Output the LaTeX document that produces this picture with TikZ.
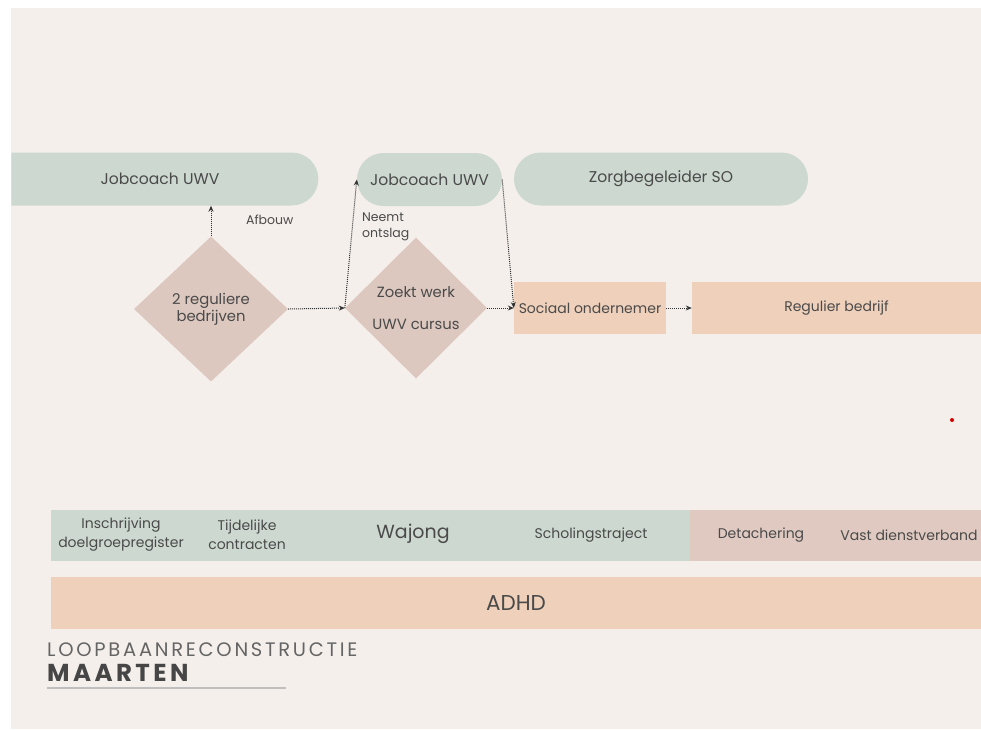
\documentclass[tikz,border=0pt]{standalone}
\usepackage{fontspec}
\setmainfont{Poppins}
\newfontfamily\titlefont[LetterSpace=14]{Poppins}
\usetikzlibrary{shapes.geometric,shapes.misc,arrows.meta}
\definecolor{bgbeige}{HTML}{F4EFEB}
\definecolor{sage}{HTML}{CDD9D0}
\definecolor{dusty}{HTML}{DDC8BF}
\definecolor{peach}{HTML}{EFD0BA}
\definecolor{rose}{HTML}{DFC9C1}
\definecolor{txt}{HTML}{4A4A4A}
\definecolor{arrowc}{HTML}{333333}
\tikzset{
  pill/.style={rounded rectangle, fill=sage, minimum height=53pt, inner sep=0pt, text=txt, font=\fontsize{15.6}{18}\selectfont},
  dia/.style={diamond, fill=dusty, inner sep=0pt, text=txt, align=center, font=\fontsize{14.8}{17}\selectfont},
  box/.style={rectangle, fill=peach, minimum height=52pt, inner sep=0pt, text=txt, font=\fontsize{14}{16}\selectfont},
  flow/.style={densely dotted, line width=1pt, draw=arrowc, -{Stealth[length=6pt,width=5pt]}},
  lbl/.style={text=txt, inner sep=0pt, align=left, font=\fontsize{12.5}{16}\selectfont},
  cell/.style={text=txt, inner sep=0pt, align=center, font=\fontsize{14}{19}\selectfont}
}
\begin{document}
\begin{tikzpicture}[x=1pt,y=-1pt]
\useasboundingbox (0,0) rectangle (981,729);
\fill[white] (0,0) rectangle (981,729);
\fill[bgbeige] (11,8) rectangle (981,729);

% pills
\node[pill, rounded rectangle left arc=none, minimum width=307pt] (jc1) at (164.5,179) {\hspace*{-9pt}Jobcoach UWV};
\node[pill, minimum width=145pt] (jc2) at (429.5,179.5) {Jobcoach UWV};
\node[pill, minimum width=294pt] (zb) at (661,179) {Zorgbegeleider SO};

% diamonds
\node[dia, minimum width=154pt, minimum height=145pt] (d1) at (211,309) {2 reguliere\\bedrijven};
\node[dia, minimum width=142pt, minimum height=141pt, font=\fontsize{14.8}{32}\selectfont] (d2) at (416,308) {Zoekt werk\\UWV cursus};

% boxes
\node[box, minimum width=152pt] (so) at (590,308) {Sociaal ondernemer};
\node[box, minimum width=289pt] (rb) at (836.5,308) {Regulier bedrijf};

% labels
\node[lbl, anchor=west] (afb) at (246,220) {Afbouw};
\node[lbl, anchor=north west] (neemt) at (362,213) {Neemt\\ontslag};

% connectors
\draw[flow] (d1.north) -- (d1.north |- jc1.south);
\draw[flow] (d1.east) -- (d2.west);
\draw[flow] (d2.west) -- (jc2.west);
\draw[flow] (jc2.east) -- (so.west);
\draw[flow] (d2.east) -- (so.west);
\draw[flow] (so.east) -- (rb.west);

% bottom bars
\node[rectangle, fill=sage, minimum width=639pt, minimum height=51pt, inner sep=0pt] (gbar) at (370.5,535.5) {};
\node[rectangle, fill=rose, minimum width=291pt, minimum height=51pt, inner sep=0pt] (pbar) at (835.5,535.5) {};
\node[cell] (c1) at (121,535) {Inschrijving\\doelgroepregister};
\node[cell] (c2) at (247,535) {Tijdelijke\\contracten};
\node[cell, font=\fontsize{19}{21}\selectfont] (c3) at (413,534) {Wajong};
\node[cell] (c4) at (591,535) {Scholingstraject};
\node[cell] (c5) at (761,535) {Detachering};
\node[cell] (c6) at (909,535) {Vast dienstverband};

\node[rectangle, fill=peach, minimum width=930pt, minimum height=52pt, inner sep=0pt, text=txt, font=\fontsize{21.5}{23}\selectfont] (adhd) at (516,603) {ADHD};

% title
\node[anchor=west, inner sep=0pt, text=txt!85, font=\titlefont\fontsize{19.5}{21}\selectfont] (t1) at (47,650) {LOOPBAANRECONSTRUCTIE};
\node[anchor=west, inner sep=0pt, text=txt!95!black, font=\titlefont\bfseries\fontsize{24.5}{26}\selectfont] (t2) at (47,673) {MAARTEN};
\draw[line width=2pt, draw=black!25] (47,688) -- (286,688);

% red dot
\fill[red!85!black] (952,420) circle (2pt);

% cover overflow at left
\fill[white] (0,0) rectangle (11,729);
\end{tikzpicture}
\end{document}
